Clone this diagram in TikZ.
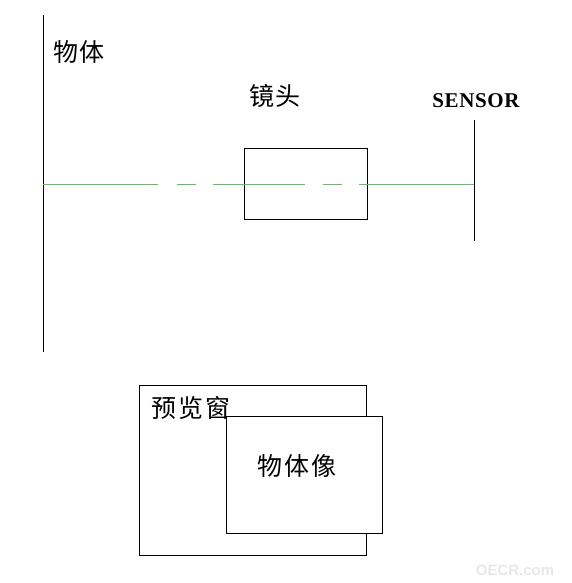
\documentclass[tikz,border=0pt]{standalone}
\usepackage{fontspec}
\newfontfamily\cjk{Noto Sans CJK SC}
\newfontfamily\latinserif{Liberation Serif}
\newfontfamily\wmfont{Liberation Sans}
\definecolor{axisgreen}{RGB}{90,195,90}
\definecolor{wmgrey}{RGB}{232,232,232}
\begin{document}
\begin{tikzpicture}[x=1pt,y=-1pt,
  blk/.style={draw=black, line width=1pt},
  cjklabel/.style={font=\cjk\fontsize{25}{25}\selectfont, inner sep=0pt, anchor=center},
  greenseg/.style={draw=axisgreen, line width=1pt}]
\useasboundingbox (0,0) rectangle (571,583);
% object line
\coordinate (objtop) at (43,15);
\coordinate (objbot) at (43,352);
\draw[blk] (objtop) -- (objbot);
% sensor line
\coordinate (sentop) at (474,120);
\coordinate (senbot) at (474,241);
\draw[blk] (sentop) -- (senbot);
% lens box
\node[blk, minimum width=123pt, minimum height=71pt, inner sep=0pt, anchor=north west] (lens) at (244,148) {};
% optical axis (green, broken)
\foreach \a/\b in {43/158, 177/196, 213/305, 323/342, 359/474} {
  \draw[greenseg] (\a,184) -- (\b,184);
}
% labels
\node[cjklabel] (objlabel) at (79,52) {物\hspace{1pt}体};
\node[cjklabel] (lenslabel) at (275,96) {镜\hspace{1pt}头};
\node[font=\latinserif\fontsize{21}{21}\selectfont\bfseries, inner sep=0pt] (senlabel) at (476,101) {\addfontfeature{LetterSpace=3}SENSOR};
% preview window
\node[blk, minimum width=227pt, minimum height=170pt, inner sep=0pt, anchor=north west] (preview) at (139,385) {};
\node[cjklabel] (prevlabel) at (191,408) {预\hspace{2pt}览\hspace{2pt}窗};
\node[blk, fill=white, minimum width=156pt, minimum height=117pt, inner sep=0pt, anchor=north west] (image) at (226,416) {};
\node[cjklabel] (imglabel) at (297,466) {物\hspace{2pt}体\hspace{2pt}像};
% watermark
\node[font=\wmfont\fontsize{15}{15}\selectfont\bfseries, text=wmgrey, inner sep=0pt] (wm) at (515,570) {OECR.com};
\end{tikzpicture}
\end{document}
